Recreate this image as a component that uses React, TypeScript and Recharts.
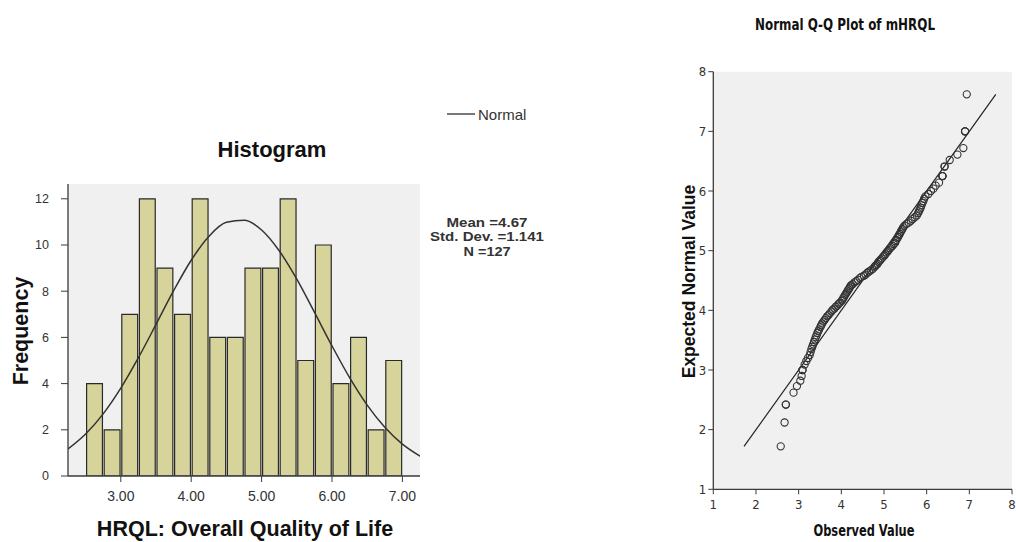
import React from 'react';
import {
    ComposedChart, BarChart, Bar, Line, XAxis, YAxis, CartesianGrid,
    ScatterChart, Scatter,
} from 'recharts';

// histogram bins (width 0.25)
const binMids = [2.625, 2.875, 3.125, 3.375, 3.625, 3.875, 4.125, 4.375, 4.625, 4.875, 5.125, 5.375, 5.625, 5.875, 6.125, 6.375, 6.625, 6.875];
const binCounts = [4, 2, 7, 12, 9, 7, 12, 6, 6, 9, 9, 12, 5, 10, 4, 6, 2, 5];

// normal curve, read at 0.25 steps
const curveX = [2.25, 2.5, 2.75, 3.0, 3.25, 3.5, 3.75, 4.0, 4.25, 4.5, 4.75, 5.0, 5.25, 5.5, 5.75, 6.0, 6.25, 6.5, 6.75, 7.0, 7.25];
const curveY = [1.17, 1.82, 2.69, 3.8, 5.12, 6.56, 8.02, 9.34, 10.37, 10.98, 11.07, 10.65, 9.75, 8.52, 7.09, 5.63, 4.26, 3.07, 2.11, 1.38, 0.86];

const histXTicks = [3, 4, 5, 6, 7];
const histYTicks = [0, 2, 4, 6, 8, 10, 12];

// Q-Q plot points
const qqObserved = [
    2.58, 2.67, 2.70, 2.70, 2.88, 2.96,
    3.04, 3.07, 3.09, 3.09, 3.14, 3.18, 3.22,
    3.26, 3.28, 3.30, 3.32, 3.34, 3.36, 3.38, 3.40, 3.42, 3.44, 3.46, 3.48,
    3.51, 3.53, 3.55, 3.58, 3.61, 3.64, 3.67, 3.70, 3.73,
    3.77, 3.80, 3.84, 3.87, 3.91, 3.94, 3.97,
    4.01, 4.03, 4.05, 4.07, 4.09, 4.11, 4.13, 4.15, 4.17, 4.19, 4.21, 4.23,
    4.27, 4.31, 4.35, 4.39, 4.43, 4.47,
    4.53, 4.57, 4.61, 4.65, 4.69, 4.73,
    4.77, 4.79, 4.82, 4.85, 4.87, 4.90, 4.92, 4.95, 4.98,
    5.01, 5.03, 5.06, 5.09, 5.11, 5.14, 5.17, 5.20, 5.23,
    5.26, 5.27, 5.29, 5.31, 5.33, 5.35, 5.37, 5.39, 5.41, 5.43, 5.45, 5.48,
    5.53, 5.58, 5.63, 5.67, 5.72,
    5.77, 5.80, 5.82, 5.84, 5.86, 5.88, 5.90, 5.92, 5.94, 5.97,
    6.04, 6.10, 6.16, 6.21,
    6.29, 6.37, 6.37, 6.37, 6.42, 6.42,
    6.54, 6.72,
    6.86, 6.90, 6.90, 6.90, 6.94,
];
const qqExpected = [
    1.72, 2.12, 2.42, 2.42, 2.62, 2.73,
    2.82, 2.90, 3.00, 3.00, 3.09, 3.15, 3.20,
    3.25, 3.30, 3.35, 3.39, 3.43, 3.47, 3.51, 3.55, 3.58, 3.62, 3.65, 3.68,
    3.72, 3.75, 3.78, 3.81, 3.84, 3.87, 3.90, 3.92, 3.95,
    3.98, 4.01, 4.03, 4.06, 4.08, 4.11, 4.13,
    4.16, 4.18, 4.21, 4.23, 4.26, 4.28, 4.30, 4.33, 4.35, 4.37, 4.40, 4.42,
    4.44, 4.47, 4.49, 4.51, 4.54, 4.56,
    4.58, 4.60, 4.63, 4.65, 4.67, 4.69,
    4.72, 4.74, 4.76, 4.78, 4.81, 4.83, 4.85, 4.87, 4.90,
    4.92, 4.94, 4.97, 4.99, 5.01, 5.04, 5.06, 5.08, 5.11,
    5.13, 5.16, 5.18, 5.21, 5.23, 5.26, 5.28, 5.31, 5.34, 5.36, 5.39, 5.42,
    5.45, 5.47, 5.50, 5.53, 5.56,
    5.59, 5.63, 5.66, 5.69, 5.72, 5.76, 5.80, 5.83, 5.87, 5.91,
    5.95, 6.00, 6.04, 6.09,
    6.14, 6.25, 6.25, 6.25, 6.41, 6.41,
    6.52, 6.61,
    6.72, 7.00, 7.00, 7.00, 7.62,
];

// reference line ends
const qqLineX = [1.72, 7.62];
const qqLineY = [1.72, 7.62];

const qqTicks = [1, 2, 3, 4, 5, 6, 7, 8];

const barData = binMids.map((x, i) => ({ x, freq: binCounts[i] }));
const curveData = curveX.map((x, i) => ({ x, curve: curveY[i] }));
const qqPoints = qqObserved.map((x, i) => ({ x, y: qqExpected[i] }));
const qqLine = qqLineX.map((x, i) => ({ x, y: qqLineY[i] }));

const SANS = "'Liberation Sans', Arial, sans-serif";
const NARROW = "'Liberation Sans Narrow', 'DejaVu Sans Condensed', 'Liberation Sans', sans-serif";
const FRAME = '#3a3a3a';
const X_DOMAIN: [number, number] = [2.25, 7.25];
const Y_DOMAIN: [number, number] = [0, 12.64];

const Ring = (props: any) => (
    <circle cx={props.cx} cy={props.cy} r={3.6} fill="none" stroke="#333" strokeWidth={1.1} />
);
const NoDot = () => <g />;

function HistogramChart() {
    return (
        <>
            <BarChart
                width={440}
                height={542}
                data={barData}
                barCategoryGap={0}
                margin={{ top: 184, right: 20, bottom: 26, left: 28 }}
                style={{ position: 'absolute', left: 0, top: 0 }}
            >
                <CartesianGrid fill="#f0f0f0" horizontal={false} vertical={false} />
                <XAxis
                    dataKey="x"
                    type="number"
                    domain={X_DOMAIN}
                    ticks={histXTicks}
                    tickFormatter={(v) => v.toFixed(2)}
                    height={40}
                    tickSize={6}
                    tickMargin={9}
                    axisLine={{ stroke: FRAME, strokeWidth: 1.3 }}
                    tickLine={{ stroke: FRAME }}
                    tick={{ fontSize: 14, fill: '#333', fontFamily: SANS }}
                    allowDataOverflow
                />
                <XAxis xAxisId="t" orientation="top" type="number" domain={X_DOMAIN} height={0} tick={false} tickLine={false} axisLine={{ stroke: FRAME, strokeWidth: 1.3 }} />
                <YAxis
                    type="number"
                    domain={Y_DOMAIN}
                    ticks={histYTicks}
                    width={40}
                    tickSize={7}
                    tickMargin={12}
                    axisLine={{ stroke: FRAME, strokeWidth: 1.3 }}
                    tickLine={{ stroke: FRAME }}
                    tick={{ fontSize: 12.5, fill: '#333', fontFamily: SANS }}
                    allowDataOverflow
                />
                <YAxis yAxisId="r" orientation="right" type="number" domain={Y_DOMAIN} width={0} tick={false} tickLine={false} axisLine={{ stroke: FRAME, strokeWidth: 1.3 }} />
                <Bar dataKey="freq" barSize={17.6} fill="#d6d39b" stroke="#2a2a2a" strokeWidth={1.2} isAnimationActive={false} />
            </BarChart>
            {/* normal curve on the same plot box, drawn over the bars */}
            <ComposedChart
                width={440}
                height={542}
                data={curveData}
                margin={{ top: 184, right: 20, bottom: 66, left: 68 }}
                style={{ position: 'absolute', left: 0, top: 0 }}
            >
                <XAxis dataKey="x" type="number" domain={X_DOMAIN} hide allowDataOverflow />
                <YAxis type="number" domain={Y_DOMAIN} hide allowDataOverflow />
                <Line dataKey="curve" type="monotone" stroke="#333" strokeWidth={1.5} dot={false} isAnimationActive={false} />
            </ComposedChart>
        </>
    );
}

function QQChart() {
    return (
        <ScatterChart
            width={362}
            height={542}
            margin={{ top: 71.7, right: 10, bottom: 22.7, left: 23.3 }}
            style={{ position: 'absolute', left: 660, top: 0 }}
        >
            <CartesianGrid fill="#f0f0f0" horizontal={false} vertical={false} />
            <XAxis
                dataKey="x"
                type="number"
                domain={[1, 8]}
                ticks={qqTicks}
                height={30}
                tickSize={5}
                tickMargin={5}
                axisLine={{ stroke: FRAME, strokeWidth: 1.3 }}
                tickLine={{ stroke: FRAME }}
                tick={{ fontSize: 13, fill: '#333', fontFamily: NARROW }}
                allowDataOverflow
            />
            <XAxis xAxisId="t" orientation="top" type="number" domain={[1, 8]} height={0} tick={false} tickLine={false} axisLine={{ stroke: FRAME, strokeWidth: 1.3 }} />
            <YAxis
                dataKey="y"
                type="number"
                domain={[1, 8]}
                ticks={qqTicks}
                width={30}
                tickSize={5}
                tickMargin={2}
                axisLine={{ stroke: FRAME, strokeWidth: 1.3 }}
                tickLine={{ stroke: FRAME }}
                tick={{ fontSize: 13, fill: '#333', fontFamily: NARROW }}
                allowDataOverflow
            />
            <Scatter data={qqLine} line={{ stroke: '#222', strokeWidth: 1.2 }} shape={NoDot} isAnimationActive={false} />
            <Scatter data={qqPoints} shape={Ring} isAnimationActive={false} />
        </ScatterChart>
    );
}

function Texts() {
    return (
        <svg width={1016} height={542} style={{ position: 'absolute', left: 0, top: 0, pointerEvents: 'none' }}>
            <text x={272} y={157} textAnchor="middle" fontFamily={SANS} fontWeight="bold" fontSize={22} fill="#111">Histogram</text>
            <text transform="translate(28,331) rotate(-90)" textAnchor="middle" fontFamily={SANS} fontWeight="bold" fontSize={21.5} fill="#111">Frequency</text>
            <text x={245} y={536} textAnchor="middle" fontFamily={SANS} fontWeight="bold" fontSize={21.5} fill="#111">HRQL: Overall Quality of Life</text>

            <line x1={447} x2={475} y1={114} y2={114} stroke="#555" strokeWidth={1.6} />
            <text x={478} y={119.5} fontFamily={SANS} fontSize={15} fill="#333">Normal</text>

            <g fontFamily={SANS} fontWeight="bold" fontSize={12.5} fill="#333" textAnchor="middle" lengthAdjust="spacingAndGlyphs">
                <text x={487} y={226.5} textLength={81} lengthAdjust="spacingAndGlyphs">Mean =4.67</text>
                <text x={487} y={241} textLength={114} lengthAdjust="spacingAndGlyphs">Std. Dev. =1.141</text>
                <text x={487} y={255.5} textLength={47} lengthAdjust="spacingAndGlyphs">N =127</text>
            </g>

            <text x={845} y={30} textAnchor="middle" fontFamily={NARROW} fontWeight="bold" fontSize={16.5} fill="#111" textLength={180} lengthAdjust="spacingAndGlyphs">Normal Q-Q Plot of mHRQL</text>
            <text x={864} y={536} textAnchor="middle" fontFamily={NARROW} fontWeight="bold" fontSize={16.5} fill="#111" textLength={101} lengthAdjust="spacingAndGlyphs">Observed Value</text>
            <text transform="translate(695,281.5) rotate(-90)" textAnchor="middle" fontFamily={SANS} fontWeight="bold" fontSize={17.5} fill="#111">Expected Normal Value</text>
        </svg>
    );
}

export default function App() {
    return (
        <div style={{ position: 'absolute', left: 0, top: 0, width: 1016, height: 542, overflow: 'hidden', background: '#fff' }}>
            <HistogramChart />
            <QQChart />
            <Texts />
        </div>
    );
}
